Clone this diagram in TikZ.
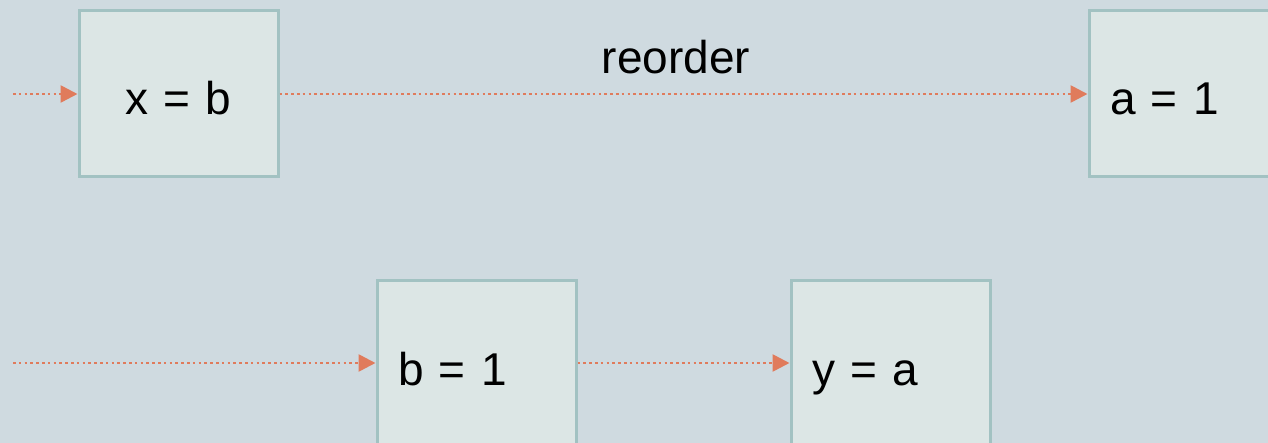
\documentclass[tikz,border=0pt]{standalone}
\usepackage{fontspec}
\setmainfont{Liberation Sans}
\usetikzlibrary{arrows.meta}
\definecolor{bg}{HTML}{CFDAE0}
\definecolor{boxfill}{HTML}{DCE6E5}
\definecolor{boxline}{HTML}{A2C2C2}
\definecolor{arr}{HTML}{E07B5C}
\begin{document}
\begin{tikzpicture}[x=1pt,y=-1pt,
  stmt/.style={draw=boxline, fill=boxfill, line width=3pt,
    minimum width=199pt, minimum height=166pt, inner xsep=21pt, inner ysep=0pt,
    text width=157pt, text height=46pt, text depth=4pt, font=\fontsize{46}{52}\selectfont},
  flow/.style={draw=arr, line width=2.6pt, dash pattern=on 2.6pt off 3.2pt,
    -{Triangle[length=17pt,width=17pt]}},
  lbl/.style={font=\fontsize{46}{52}\selectfont}]
\fill[bg] (0,0) rectangle (1268,443);
\useasboundingbox (0,0) rectangle (1268,443);
\node[stmt, align=center] (x) at (178.5,94) {x = b};
\node[stmt, align=left] (a) at (1188.5,94) {a = 1};
\node[stmt, align=left] (b) at (476.5,364) {b = 1};
\node[stmt, align=left] (y) at (890.5,364) {y = a};
\node[lbl] (reorder) at (676,57) {reorder};
\coordinate (in1) at (13,94);
\coordinate (in2) at (13,363);
\draw[flow] (in1) -- (x.west);
\draw[flow] (x.east) -- (a.west);
\draw[flow] (in2) -- (b.west |- in2);
\draw[flow] (b.east |- in2) -- (y.west |- in2);
\end{tikzpicture}
\end{document}
